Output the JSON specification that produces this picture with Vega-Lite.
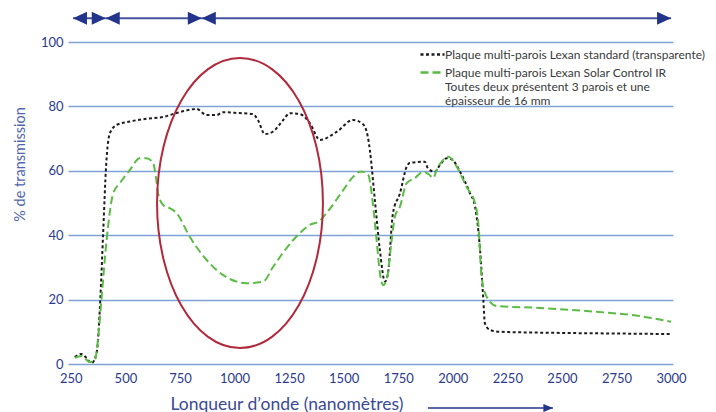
{
  "$schema": "https://vega.github.io/schema/vega-lite/v6.json",
  "width": 605,
  "height": 322,
  "autosize": {"type": "none"},
  "padding": {"left": 68, "top": 42, "right": 43, "bottom": 48},
  "background": "white",
  "datasets": {
    "curves": [
      {"serie": "std", "nm": 268, "t": 2.2}, {"serie": "std", "nm": 299, "t": 3.1}, {"serie": "std", "nm": 320, "t": 2.0},
      {"serie": "std", "nm": 345, "t": 0.3}, {"serie": "std", "nm": 368, "t": 3.4}, {"serie": "std", "nm": 385, "t": 20},
      {"serie": "std", "nm": 398, "t": 40.6}, {"serie": "std", "nm": 412, "t": 62}, {"serie": "std", "nm": 429, "t": 71.7},
      {"serie": "std", "nm": 459, "t": 74.2}, {"serie": "std", "nm": 520, "t": 75.3}, {"serie": "std", "nm": 600, "t": 76.2},
      {"serie": "std", "nm": 672, "t": 76.7}, {"serie": "std", "nm": 718, "t": 77.6}, {"serie": "std", "nm": 770, "t": 78.6},
      {"serie": "std", "nm": 826, "t": 79.2}, {"serie": "std", "nm": 872, "t": 77.3}, {"serie": "std", "nm": 918, "t": 77.3},
      {"serie": "std", "nm": 947, "t": 78.2}, {"serie": "std", "nm": 1000, "t": 78}, {"serie": "std", "nm": 1084, "t": 77.6},
      {"serie": "std", "nm": 1107, "t": 75.8}, {"serie": "std", "nm": 1139, "t": 71.4}, {"serie": "std", "nm": 1177, "t": 72.2},
      {"serie": "std", "nm": 1220, "t": 75.5}, {"serie": "std", "nm": 1254, "t": 77.9}, {"serie": "std", "nm": 1300, "t": 77.6},
      {"serie": "std", "nm": 1345, "t": 74.8}, {"serie": "std", "nm": 1391, "t": 69.6}, {"serie": "std", "nm": 1468, "t": 72.1},
      {"serie": "std", "nm": 1543, "t": 75.8}, {"serie": "std", "nm": 1588, "t": 74.5}, {"serie": "std", "nm": 1611, "t": 70.5},
      {"serie": "std", "nm": 1620, "t": 66.5}, {"serie": "std", "nm": 1643, "t": 50.9}, {"serie": "std", "nm": 1666, "t": 35.4},
      {"serie": "std", "nm": 1689, "t": 25.6}, {"serie": "std", "nm": 1703, "t": 28.2}, {"serie": "std", "nm": 1726, "t": 46.9},
      {"serie": "std", "nm": 1758, "t": 53}, {"serie": "std", "nm": 1789, "t": 61.3}, {"serie": "std", "nm": 1804, "t": 62.5},
      {"serie": "std", "nm": 1872, "t": 62.8}, {"serie": "std", "nm": 1886, "t": 60.8}, {"serie": "std", "nm": 1918, "t": 59.7},
      {"serie": "std", "nm": 1941, "t": 61.8}, {"serie": "std", "nm": 1972, "t": 63.9}, {"serie": "std", "nm": 1995, "t": 63.6},
      {"serie": "std", "nm": 2033, "t": 59.7}, {"serie": "std", "nm": 2079, "t": 53}, {"serie": "std", "nm": 2102, "t": 48.9},
      {"serie": "std", "nm": 2125, "t": 35.4}, {"serie": "std", "nm": 2140, "t": 19.9}, {"serie": "std", "nm": 2147, "t": 12.7},
      {"serie": "std", "nm": 2170, "t": 10.6}, {"serie": "std", "nm": 2216, "t": 10.0}, {"serie": "std", "nm": 2445, "t": 9.7},
      {"serie": "std", "nm": 2700, "t": 9.5}, {"serie": "std", "nm": 3000, "t": 9.3},
      {"serie": "ir", "nm": 268, "t": 1.9}, {"serie": "ir", "nm": 299, "t": 2.5}, {"serie": "ir", "nm": 337, "t": 0.6},
      {"serie": "ir", "nm": 360, "t": 1.2}, {"serie": "ir", "nm": 375, "t": 8}, {"serie": "ir", "nm": 390, "t": 19.9},
      {"serie": "ir", "nm": 414, "t": 38.5}, {"serie": "ir", "nm": 444, "t": 53}, {"serie": "ir", "nm": 475, "t": 56.2},
      {"serie": "ir", "nm": 520, "t": 60.2}, {"serie": "ir", "nm": 566, "t": 63.9}, {"serie": "ir", "nm": 597, "t": 63.9},
      {"serie": "ir", "nm": 627, "t": 62.4}, {"serie": "ir", "nm": 640, "t": 58}, {"serie": "ir", "nm": 650, "t": 53},
      {"serie": "ir", "nm": 673, "t": 49.4}, {"serie": "ir", "nm": 700, "t": 48.5}, {"serie": "ir", "nm": 734, "t": 46.9},
      {"serie": "ir", "nm": 795, "t": 39.5}, {"serie": "ir", "nm": 872, "t": 32.3}, {"serie": "ir", "nm": 948, "t": 27.6},
      {"serie": "ir", "nm": 1055, "t": 25.1}, {"serie": "ir", "nm": 1131, "t": 25.6}, {"serie": "ir", "nm": 1177, "t": 30.2},
      {"serie": "ir", "nm": 1269, "t": 38.5}, {"serie": "ir", "nm": 1345, "t": 43.2}, {"serie": "ir", "nm": 1391, "t": 44.5},
      {"serie": "ir", "nm": 1422, "t": 46.9}, {"serie": "ir", "nm": 1498, "t": 54}, {"serie": "ir", "nm": 1544, "t": 58.2},
      {"serie": "ir", "nm": 1574, "t": 59.7}, {"serie": "ir", "nm": 1590, "t": 59.7}, {"serie": "ir", "nm": 1613, "t": 58.7},
      {"serie": "ir", "nm": 1628, "t": 53}, {"serie": "ir", "nm": 1651, "t": 38.5}, {"serie": "ir", "nm": 1666, "t": 28.2},
      {"serie": "ir", "nm": 1681, "t": 24.5}, {"serie": "ir", "nm": 1700, "t": 27.1}, {"serie": "ir", "nm": 1720, "t": 38.5},
      {"serie": "ir", "nm": 1735, "t": 45.8}, {"serie": "ir", "nm": 1758, "t": 48.9}, {"serie": "ir", "nm": 1789, "t": 56.2},
      {"serie": "ir", "nm": 1827, "t": 57.8}, {"serie": "ir", "nm": 1865, "t": 59.7}, {"serie": "ir", "nm": 1888, "t": 59},
      {"serie": "ir", "nm": 1911, "t": 57.8}, {"serie": "ir", "nm": 1926, "t": 60.2}, {"serie": "ir", "nm": 1956, "t": 63.4},
      {"serie": "ir", "nm": 1979, "t": 64.4}, {"serie": "ir", "nm": 2018, "t": 61.3}, {"serie": "ir", "nm": 2063, "t": 55},
      {"serie": "ir", "nm": 2102, "t": 49.9}, {"serie": "ir", "nm": 2117, "t": 43.7}, {"serie": "ir", "nm": 2132, "t": 27.1},
      {"serie": "ir", "nm": 2155, "t": 20.9}, {"serie": "ir", "nm": 2201, "t": 18}, {"serie": "ir", "nm": 2400, "t": 17.4},
      {"serie": "ir", "nm": 2583, "t": 16.6}, {"serie": "ir", "nm": 2750, "t": 15.7}, {"serie": "ir", "nm": 2812, "t": 15.3},
      {"serie": "ir", "nm": 3000, "t": 13.1}
    ],
    "bands": [
      {"from": 260, "to": 410, "t": 107.4},
      {"from": 410, "to": 850, "t": 107.4},
      {"from": 850, "to": 3000, "t": 107.4}
    ],
    "heads": [
      {"nm": 260, "t": 107.4, "dir": "left"}, {"nm": 410, "t": 107.4, "dir": "right"},
      {"nm": 410, "t": 107.4, "dir": "left"}, {"nm": 850, "t": 107.4, "dir": "right"},
      {"nm": 850, "t": 107.4, "dir": "left"}, {"nm": 3000, "t": 107.4, "dir": "right"}
    ],
    "zone": [{"nm": 1025, "t": 50}],
    "axisArrow": [{"from": 1886, "to": 2459, "t": -13.7}]
  },
  "layer": [
    {
      "data": {"name": "curves"},
      "mark": {"type": "line", "interpolate": "monotone", "strokeWidth": 2},
      "encoding": {
        "x": {
          "field": "nm", "type": "quantitative",
          "scale": {"domain": [237, 3009], "nice": false, "zero": false},
          "axis": {
            "values": [250, 500, 750, 1000, 1250, 1500, 1750, 2000, 2250, 2500, 2750, 3000],
            "format": "d",
            "grid": false, "domain": false, "ticks": false,
            "labelPadding": 8, "labelFlush": false,
            "title": "Lonqueur d’onde (nanomètres)",
            "titleFontSize": 17.5, "titleFontWeight": "normal", "titleColor": "#3a4a95",
            "titleAnchor": "start", "titleAlign": "left", "titleX": 102, "titleY": 45,
            "titleBaseline": "alphabetic"
          }
        },
        "y": {
          "field": "t", "type": "quantitative",
          "scale": {"domain": [0, 100], "nice": false},
          "axis": {
            "values": [0, 20, 40, 60, 80, 100],
            "grid": true, "domain": false, "ticks": false, "labelPadding": 5,
            "title": "% de transmission",
            "titleFontSize": 14.5, "titleFontWeight": "normal", "titleColor": "#5065ad",
            "titleAngle": -90, "titleX": -48, "titleY": 122,
            "titleAlign": "center", "titleBaseline": "middle"
          }
        },
        "color": {
          "field": "serie", "type": "nominal",
          "scale": {"domain": ["std", "ir"], "range": ["#1c1c1c", "#5bbb45"]},
          "legend": {
            "orient": "none", "legendX": 357, "legendY": 5,
            "title": null, "symbolType": "M-2,0L2,0", "symbolSize": 144, "symbolStrokeWidth": 2.5,
            "labelFontSize": 12, "labelColor": "#3a3a3a", "labelOffset": 5, "rowPadding": 4,
            "labelLimit": 400,
            "labelExpr": "datum.value == 'ir' ? ['Plaque multi-parois Lexan Solar Control IR', 'Toutes deux présentent 3 parois et une', 'épaisseur de 16 mm'] : 'Plaque multi-parois Lexan standard (transparente)'"
          }
        },
        "strokeDash": {
          "field": "serie", "type": "nominal",
          "scale": {"domain": ["std", "ir"], "range": [[3, 2.5], [8, 4]]},
          "legend": null
        }
      }
    },
    {
      "data": {"name": "zone"},
      "mark": {
        "type": "point", "filled": false, "stroke": "#b02a3c", "strokeWidth": 2, "opacity": 1,
        "shape": "M-0.572,0C-0.572,-0.552 -0.316,-1 0,-1C0.316,-1 0.572,-0.552 0.572,0C0.572,0.552 0.316,1 0,1C-0.316,1 -0.572,0.552 -0.572,0Z",
        "size": 84100
      },
      "encoding": {
        "x": {"field": "nm", "type": "quantitative"},
        "y": {"field": "t", "type": "quantitative"}
      }
    },
    {
      "data": {"name": "bands"},
      "mark": {"type": "rule", "stroke": "#44549c", "strokeWidth": 2},
      "encoding": {
        "x": {"field": "from", "type": "quantitative"},
        "x2": {"field": "to"},
        "y": {"field": "t", "type": "quantitative"}
      }
    },
    {
      "data": {"name": "heads"},
      "mark": {"type": "point", "filled": true, "color": "#23358a", "opacity": 1, "size": 196, "strokeWidth": 0},
      "encoding": {
        "x": {"field": "nm", "type": "quantitative"},
        "y": {"field": "t", "type": "quantitative"},
        "shape": {
          "field": "dir", "type": "nominal",
          "scale": {"domain": ["left", "right"], "range": ["M0,0L2,-0.93L2,0.93Z", "M0,0L-2,-0.93L-2,0.93Z"]},
          "legend": null
        }
      }
    },
    {
      "data": {"name": "axisArrow"},
      "layer": [
        {
          "mark": {"type": "rule", "stroke": "#23358a", "strokeWidth": 1.5},
          "encoding": {
            "x": {"field": "from", "type": "quantitative"},
            "x2": {"field": "to"},
            "y": {"field": "t", "type": "quantitative"}
          }
        },
        {
          "mark": {"type": "point", "filled": true, "color": "#23358a", "opacity": 1, "size": 64, "strokeWidth": 0,
            "shape": "M0,0L-2.4,-1L-2.4,1Z"},
          "encoding": {
            "x": {"field": "to", "type": "quantitative"},
            "y": {"field": "t", "type": "quantitative"}
          }
        }
      ]
    }
  ],
  "config": {
    "font": "Lato",
    "view": {"stroke": null},
    "axis": {
      "labelFont": "Lato", "labelFontSize": 13, "labelColor": "#2b3a8c",
      "gridColor": "#7fa3d6", "gridWidth": 1.3, "gridOpacity": 1,
      "titleFont": "Lato"
    },
    "legend": {"labelFont": "Lato"}
  }
}
